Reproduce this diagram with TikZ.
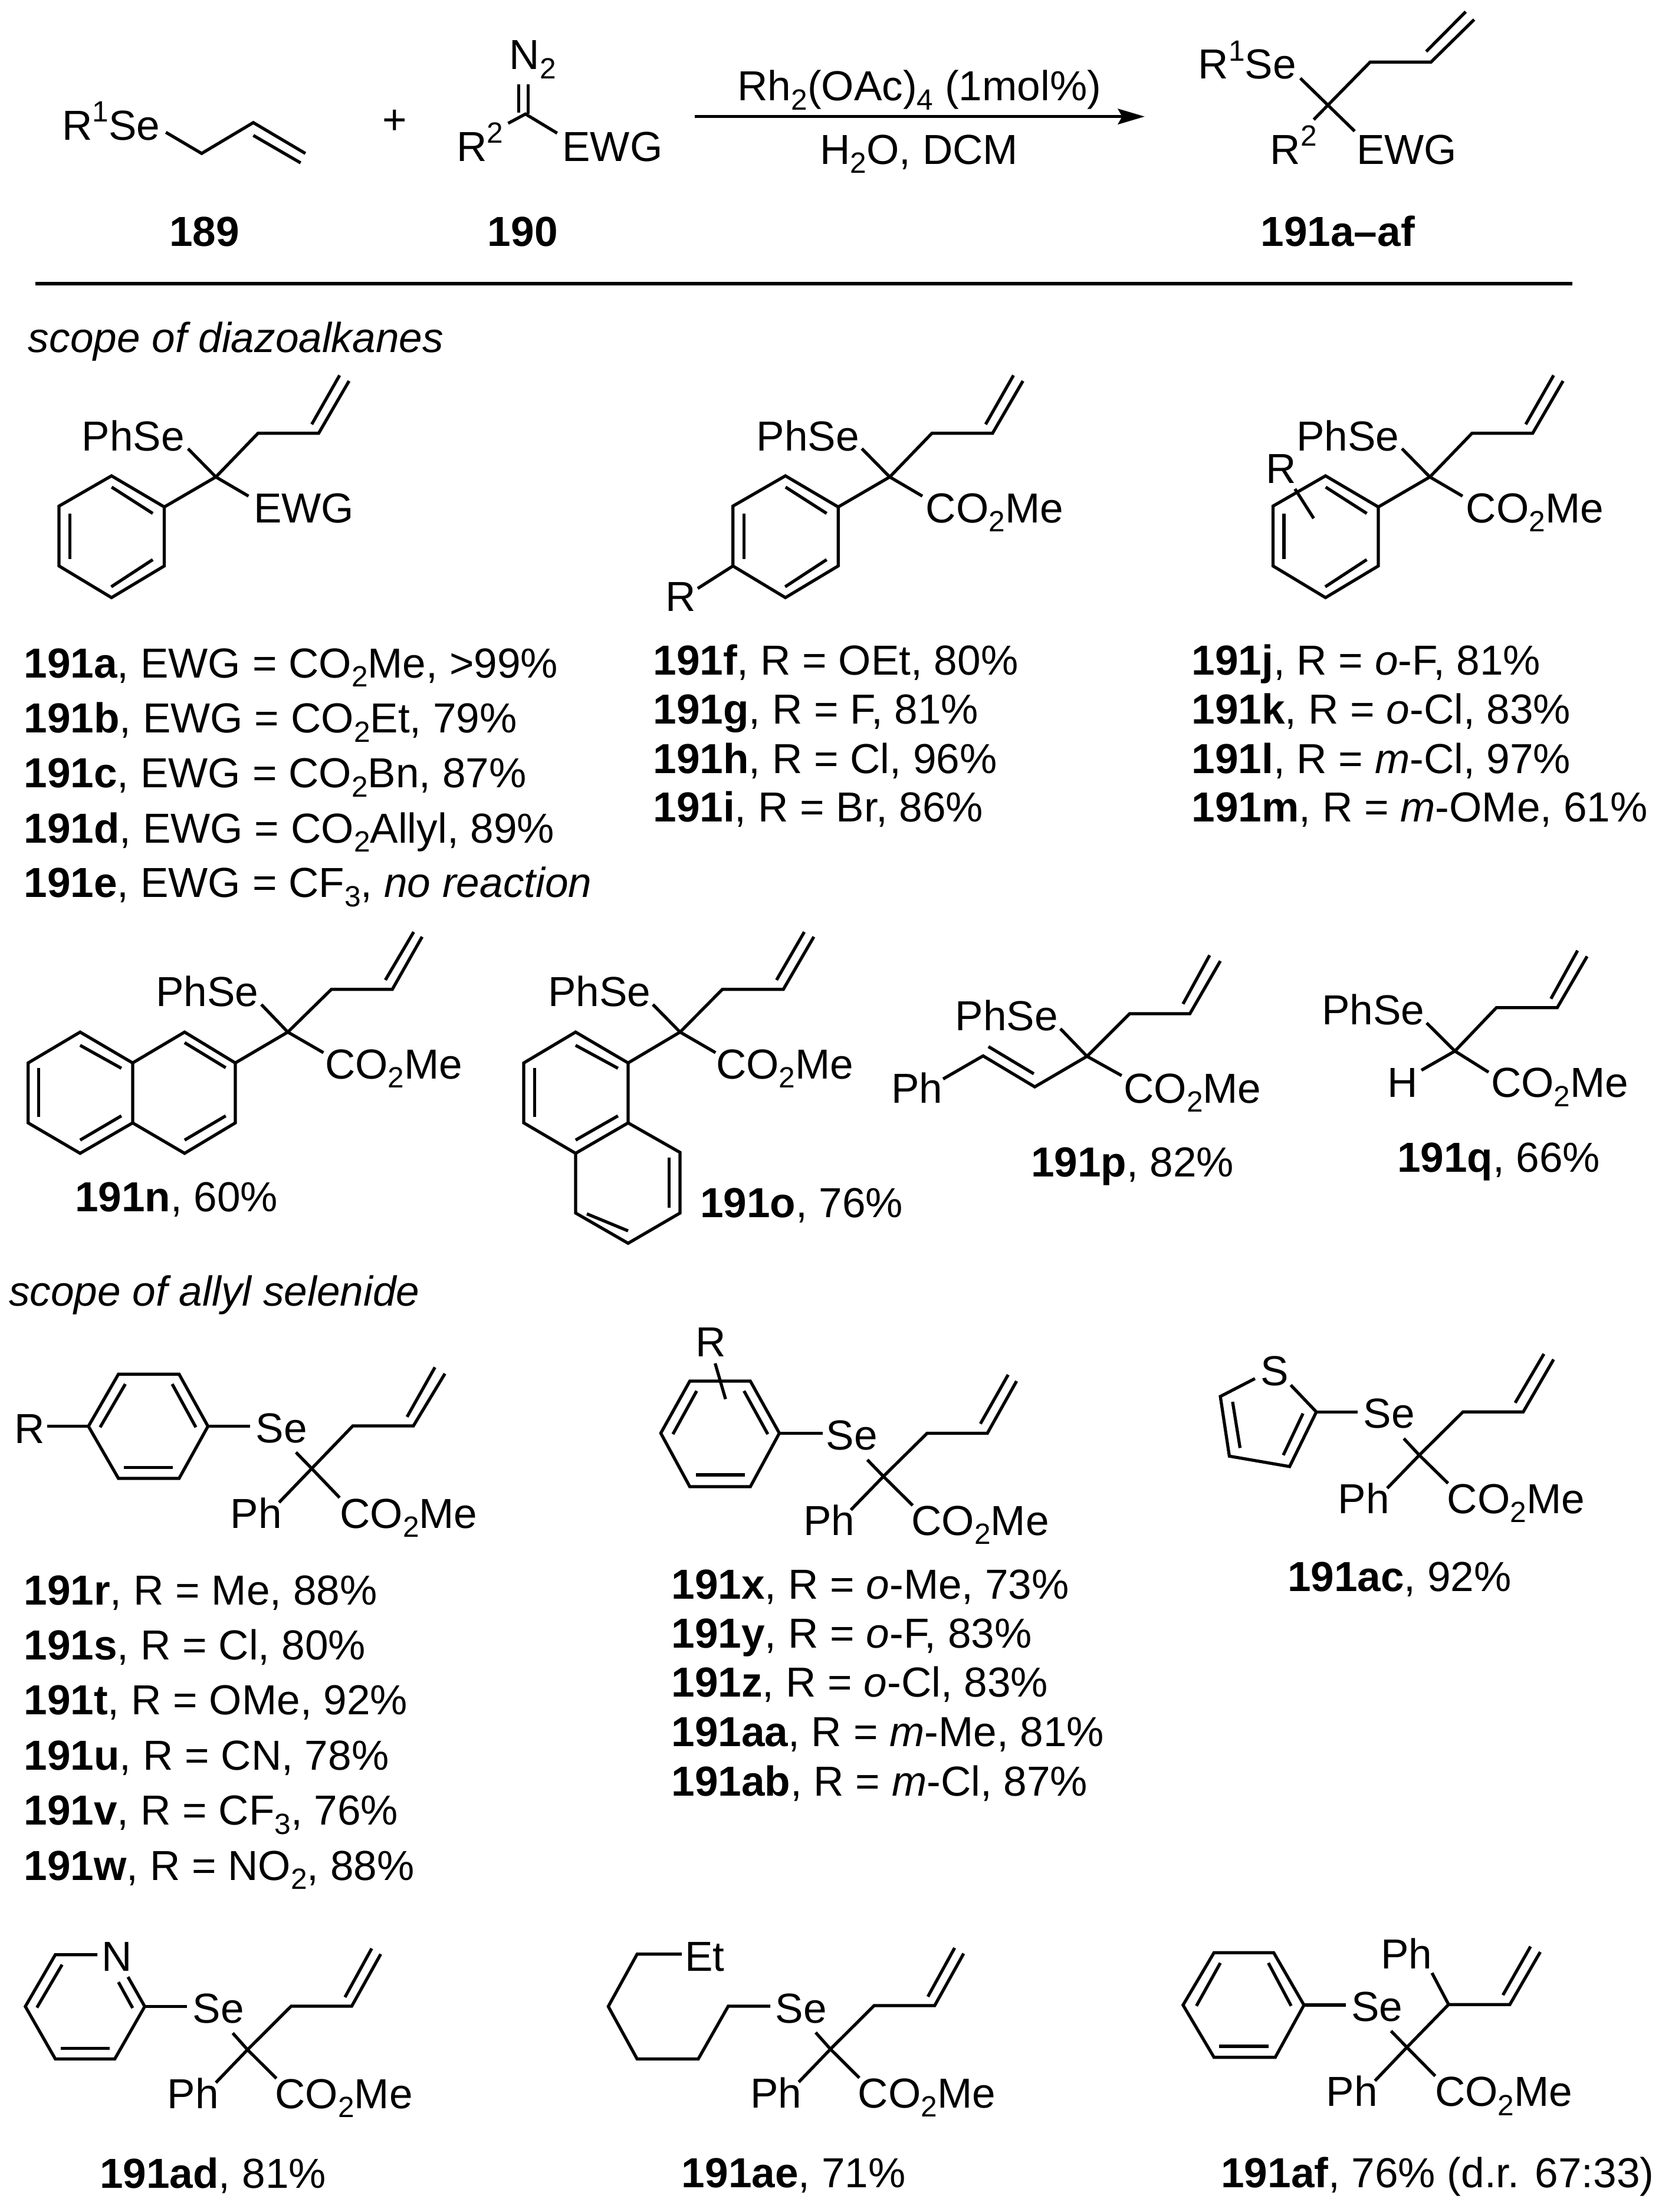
\documentclass[tikz,border=0pt]{standalone}
\usepackage{fontspec}
\usetikzlibrary{arrows.meta}
\setmainfont{Liberation Sans}
\newcount\tn
\newcommand\sbs[1]{\raisebox{-3.2pt}{\fontsize{10.4}{10.4}\selectfont #1}}
\newcommand\sps[1]{\raisebox{6.4pt}{\fontsize{10.4}{10.4}\selectfont #1}}
\newcommand\Lbl[3]{\global\advance\tn by 1\node[lbl] (t\the\tn) at (#1,#2) {#3};}
\newcommand\coMe{CO\sbs{2}Me}
\tikzset{
  lbl/.style={anchor=base west,inner sep=0pt,outer sep=0pt,xshift=-0.8pt,font=\fontsize{14.9}{14.9}\selectfont},
  bond/.style={draw=black,line width=1.1pt,line cap=butt,line join=miter},
  rule/.style={draw=black,line width=1.2pt},
  rxn/.style={draw=black,line width=1.1pt,-{Stealth[length=9.5pt,width=5.5pt,inset=1.5pt]}}
}
% allyl aryl fragment shared by 191a, 191f, 191j
\newcommand\arylfrag[1]{%
\begin{scope}[shift={(#1,0)}]
\draw[bond] (133.5,318.7) -- (153.3,338.8) -- (176.5,352.4);
\draw[bond] (153.3,338.8) -- (183.2,307.8) -- (226.3,307.8) -- (247.9,270.6);
\draw[bond] (221.4,301.4) -- (241.2,266.6);
\draw[bond] (153.3,338.8) -- (116.7,360.1);
\draw[bond] (116.7,360.1) -- (79.2,338) -- (41.9,359.5) -- (41.9,402) -- (79.2,424.5) -- (116.7,402) -- cycle;
\draw[bond] (79.3,346) -- (108.5,364.7);
\draw[bond] (49.7,364.7) -- (49.7,397.3);
\draw[bond] (79,416.8) -- (108.5,397.5);
\end{scope}}
\begin{document}
\begin{tikzpicture}[x=0.5pt,y=-0.5pt]
\useasboundingbox (0,0) rectangle (1180,1571.2);
\fill[white] (0,0) rectangle (1180,1571.2);
% ---- scheme
\Lbl{45.7}{99.5}{R\sps{1}Se}
\draw[bond] (117.8,94) -- (143.2,109) -- (179.9,87.1) -- (216.9,109);
\draw[bond] (179.9,96.2) -- (213.5,115.7);
\node[inner sep=0pt,font=\fontsize{14.9}{14.9}\selectfont] (plus) at (280.5,86.8) {+};
\Lbl{363.5}{49.4}{N\sbs{2}}
\draw[bond] (368.4,60) -- (368.4,80);
\draw[bond] (375,60) -- (375,81);
\draw[bond] (360.9,87.6) -- (373.2,81) -- (395.7,94.6);
\Lbl{326}{114.5}{R\sps{2}}
\Lbl{401}{114.5}{EWG}
\Lbl{122}{175}{\bfseries 189}
\Lbl{348}{175}{\bfseries 190}
\coordinate (arS) at (493.6,82.8);
\coordinate (arE) at (813,82.8);
\draw[rxn] (arS) -- (arE);
\Lbl{525.4}{71.6}{Rh\sbs{2}(OAc)\sbs{4} (1mol\%)}
\Lbl{584}{116.5}{H\sbs{2}O, DCM}
\Lbl{852.7}{56}{R\sps{1}Se}
\draw[bond] (923.5,55.6) -- (962.1,93.2);
\draw[bond] (933,85) -- (973.1,44.1) -- (1016.3,44.1) -- (1047,13.9);
\draw[bond] (1012.9,36.6) -- (1041,8.3);
\Lbl{903.8}{116.5}{R\sps{2}}
\Lbl{965}{116.5}{EWG}
\Lbl{897}{175}{\bfseries 191a–af}
\coordinate (ruleS) at (25,201.4);
\coordinate (ruleE) at (1116.6,201.4);
\draw[rule] (ruleS) -- (ruleE);
\Lbl{21.7}{250.3}{\itshape scope of diazoalkanes}
% ---- 191a
\arylfrag{0}
\Lbl{59.8}{320.3}{PhSe}
\Lbl{181.8}{371.4}{EWG}
\Lbl{18.6}{481.4}{\textbf{191a}, EWG = CO\sbs{2}Me, >99\%}
\Lbl{18.6}{520.6}{\textbf{191b}, EWG = CO\sbs{2}Et, 79\%}
\Lbl{18.6}{559.6}{\textbf{191c}, EWG = CO\sbs{2}Bn, 87\%}
\Lbl{18.6}{598.7}{\textbf{191d}, EWG = CO\sbs{2}Allyl, 89\%}
\Lbl{18.6}{637.5}{\textbf{191e}, EWG = CF\sbs{3}, \textit{no reaction}}
% ---- 191f
\arylfrag{478.6}
\draw[bond] (520.6,402) -- (495.5,418);
\Lbl{474.5}{434}{R}
\Lbl{539}{320.3}{PhSe}
\Lbl{659.2}{371.4}{\coMe}
\Lbl{465.5}{479.4}{\textbf{191f}, R = OEt, 80\%}
\Lbl{465.5}{514}{\textbf{191g}, R = F, 81\%}
\Lbl{465.5}{549.2}{\textbf{191h}, R = Cl, 96\%}
\Lbl{465.5}{583.9}{\textbf{191i}, R = Br, 86\%}
% ---- 191j
\arylfrag{862.2}
\draw[bond] (919.7,347.3) -- (933,368.2);
\Lbl{900.8}{343.3}{R}
\Lbl{922.4}{320.3}{PhSe}
\Lbl{1042.8}{371.4}{\coMe}
\Lbl{848}{479.4}{\textbf{191j}, R = \textit{o}-F, 81\%}
\Lbl{848}{514}{\textbf{191k}, R = \textit{o}-Cl, 83\%}
\Lbl{848}{549.2}{\textbf{191l}, R = \textit{m}-Cl, 97\%}
\Lbl{848}{583.9}{\textbf{191m}, R = \textit{m}-OMe, 61\%}
% ---- 191n
\Lbl{112.2}{714.8}{PhSe}
\draw[bond] (185.6,713.5) -- (204.4,733.1) -- (229.7,747.7);
\draw[bond] (204.4,733.1) -- (235.3,702.8) -- (278.6,702.8) -- (299.8,665.4);
\draw[bond] (273.7,696.1) -- (293.8,662);
\draw[bond] (204.4,733.1) -- (167.1,755);
\draw[bond] (167.1,755) -- (131.1,733.1) -- (94.2,755) -- (94.2,797.6) -- (131.1,819.2) -- (167.1,797.6) -- cycle;
\draw[bond] (94.2,755) -- (56.9,733.1) -- (20,755) -- (20,797.6) -- (56.9,819.2) -- (94.2,797.6);
\draw[bond] (131.1,740.6) -- (160.3,758.4);
\draw[bond] (131.1,809.8) -- (160.3,792.6);
\draw[bond] (56.9,742.5) -- (86.2,758.8);
\draw[bond] (27.3,758.4) -- (27.3,793.5);
\draw[bond] (56.9,809.8) -- (86.2,792.6);
\Lbl{232.5}{766.4}{\coMe}
\Lbl{54.8}{860.6}{\textbf{191n}, 60\%}
% ---- 191o
\Lbl{390.8}{714.8}{PhSe}
\draw[bond] (463.7,713.5) -- (483,733.1) -- (508.2,747.7);
\draw[bond] (483,733.1) -- (513,702.8) -- (556.3,702.8) -- (578,665.4);
\draw[bond] (551.5,696.1) -- (571.2,662);
\draw[bond] (483,733.1) -- (446.1,755);
\draw[bond] (446.1,755) -- (408.8,733.1) -- (372,755) -- (372,797.6) -- (408.8,819.2) -- (446.1,797.6) -- cycle;
\draw[bond] (446.1,797.6) -- (483,818.6) -- (483,861.6) -- (446.1,883.1) -- (408.8,861.6) -- (408.8,819.2);
\draw[bond] (408.8,742.5) -- (438.9,758.8);
\draw[bond] (379.6,758.4) -- (379.6,793.5);
\draw[bond] (408.8,809.8) -- (438.9,792.6);
\draw[bond] (475.3,822.3) -- (475.3,857.9);
\draw[bond] (416.8,862.2) -- (446.1,874.3);
\Lbl{510.2}{766.4}{\coMe}
\Lbl{498.8}{864.9}{\textbf{191o}, 76\%}
% ---- 191p
\Lbl{680}{731.8}{PhSe}
\draw[bond] (753.1,730.7) -- (772,750.3) -- (796.6,764);
\draw[bond] (772,750.3) -- (802.3,720) -- (845.1,720) -- (866.7,682.6);
\draw[bond] (840.2,713.1) -- (859.1,678.5);
\draw[bond] (772,750.3) -- (734.9,772) -- (698.2,750) -- (669.8,766.4);
\draw[bond] (734.2,762.7) -- (702,743.4);
\Lbl{634.6}{783.3}{Ph}
\Lbl{799.7}{783.3}{\coMe}
\Lbl{733.8}{835.9}{\textbf{191p}, 82\%}
% ---- 191q
\Lbl{940.5}{727.9}{PhSe}
\draw[bond] (1013.2,726.6) -- (1033.3,746.6) -- (1057.2,761.6);
\draw[bond] (1033.3,746.6) -- (1062.8,715.7) -- (1106,715.7) -- (1127.2,679.3);
\draw[bond] (1101.5,709.4) -- (1120.4,675.2);
\draw[bond] (1033.3,746.6) -- (1009.5,760.2);
\Lbl{987}{779.5}{H}
\Lbl{1060.6}{779.5}{\coMe}
\Lbl{993.9}{832.3}{\textbf{191q}, 66\%}
\Lbl{8}{927.5}{\itshape scope of allyl selenide}
% ---- 191r
\Lbl{12}{1025}{R}
\draw[bond] (33.7,1013.1) -- (62.8,1013.1);
\draw[bond] (62.8,1013.1) -- (84.1,976.1) -- (127.2,976.1) -- (147.7,1013.1) -- (127.2,1050.1) -- (84.1,1050.1) -- cycle;
\draw[bond] (89,983.1) -- (71.1,1013.8);
\draw[bond] (122.3,983.1) -- (139.1,1013.8);
\draw[bond] (87.9,1042.4) -- (122.7,1042.4);
\draw[bond] (147.7,1013.1) -- (177.6,1013.1);
\Lbl{183.2}{1024.6}{Se}
\draw[bond] (198.2,1067.2) -- (221.4,1043.1) -- (250.6,1012.8) -- (293.6,1012.8) -- (316,975.7);
\draw[bond] (289.1,1006.4) -- (308.9,971.2);
\draw[bond] (210.2,1031.6) -- (221.4,1043.1) -- (241.2,1063.8);
\Lbl{165.3}{1085.3}{Ph}
\Lbl{243}{1085.3}{\coMe}
\Lbl{18.6}{1140.1}{\textbf{191r}, R = Me, 88\%}
\Lbl{18.6}{1178.9}{\textbf{191s}, R = Cl, 80\%}
\Lbl{18.6}{1217.7}{\textbf{191t}, R = OMe, 92\%}
\Lbl{18.6}{1257.4}{\textbf{191u}, R = CN, 78\%}
\Lbl{18.6}{1296.4}{\textbf{191v}, R = CF\sbs{3}, 76\%}
\Lbl{18.6}{1335.5}{\textbf{191w}, R = NO\sbs{2}, 88\%}
% ---- 191x
\Lbl{495.5}{963.8}{R}
\draw[bond] (507.9,968.4) -- (515.3,993.8);
\draw[bond] (489.9,981) -- (532.9,981) -- (553.5,1018) -- (532.9,1056) -- (489.9,1056) -- (469.3,1018) -- cycle;
\draw[bond] (494.8,988) -- (477.9,1018.7);
\draw[bond] (528.4,988) -- (545.3,1018.7);
\draw[bond] (494.4,1047.6) -- (529.2,1047.6);
\draw[bond] (553.5,1018) -- (584.5,1018);
\Lbl{588.4}{1029.6}{Se}
\draw[bond] (604.3,1072.5) -- (627.4,1048.7) -- (658.4,1018.1) -- (701.2,1018.1) -- (722,981);
\draw[bond] (696.3,1011.3) -- (716,976.5);
\draw[bond] (616,1036.9) -- (627.4,1048.7) -- (648.2,1069.3);
\Lbl{572.2}{1090.6}{Ph}
\Lbl{649}{1090.6}{\coMe}
\Lbl{478.5}{1135.6}{\textbf{191x}, R = \textit{o}-Me, 73\%}
\Lbl{478.5}{1170.6}{\textbf{191y}, R = \textit{o}-F, 83\%}
\Lbl{478.5}{1205.5}{\textbf{191z}, R = \textit{o}-Cl, 83\%}
\Lbl{478.5}{1240.5}{\textbf{191aa}, R = \textit{m}-Me, 81\%}
\Lbl{478.5}{1275.6}{\textbf{191ab}, R = \textit{m}-Cl, 87\%}
% ---- 191ac
\Lbl{897}{984.2}{S}
\draw[bond] (891.3,979.2) -- (866.7,991.9) -- (873.1,1034.3) -- (915.9,1041.7) -- (934.9,1002.9) -- (916.7,983.8);
\draw[bond] (875.4,995.7) -- (880.7,1028.5);
\draw[bond] (911.4,1033.6) -- (925.4,1004);
\draw[bond] (934.9,1002.9) -- (964.4,1002.9);
\Lbl{970}{1014.5}{Se}
\draw[bond] (985.2,1057.1) -- (1008,1033.6) -- (1039,1002.9) -- (1081.8,1002.9) -- (1103.4,965.6);
\draw[bond] (1076.1,996.4) -- (1096.5,961.7);
\draw[bond] (997,1021.8) -- (1008,1033.6) -- (1028.4,1053.6);
\Lbl{951.9}{1075}{Ph}
\Lbl{1029.5}{1075}{\coMe}
\Lbl{916}{1130.5}{\textbf{191ac}, 92\%}
% ---- 191ad
\Lbl{73.7}{1400.2}{N}
\draw[bond] (69.2,1388.4) -- (39.3,1388.4) -- (18,1425.2) -- (39.3,1462.5) -- (81.5,1462.5) -- (102.8,1425.2) -- (90.9,1404.2);
\draw[bond] (44.1,1395.5) -- (26.2,1426);
\draw[bond] (43,1455.1) -- (77.8,1455.1);
\draw[bond] (84.1,1407.9) -- (94.2,1426.3);
\draw[bond] (102.8,1425.2) -- (132.8,1425.2);
\Lbl{138.4}{1437}{Se}
\draw[bond] (153.3,1479.3) -- (175.8,1455.9) -- (206.8,1425) -- (249.8,1425) -- (270.4,1388);
\draw[bond] (245,1418.6) -- (264,1384);
\draw[bond] (165.3,1444.1) -- (175.8,1455.9) -- (196.3,1476.3);
\Lbl{120.4}{1497.7}{Ph}
\Lbl{197}{1497.7}{\coMe}
\Lbl{72.5}{1554.3}{\textbf{191ad}, 81\%}
% ---- 191ae
\Lbl{488}{1399.9}{Et}
\draw[bond] (484.3,1388) -- (452.5,1388) -- (432,1425.2) -- (452.5,1462.5) -- (495.9,1462.5) -- (517.2,1425) -- (547.1,1425);
\Lbl{552.4}{1437}{Se}
\draw[bond] (567.3,1478.9) -- (589.8,1455.5) -- (620.8,1424.6) -- (663.8,1424.6) -- (684.4,1387.6);
\draw[bond] (659,1418.2) -- (678,1383.6);
\draw[bond] (579.3,1443.7) -- (589.8,1455.5) -- (610.3,1475.9);
\Lbl{534.4}{1497.3}{Ph}
\Lbl{611}{1497.3}{\coMe}
\Lbl{485.8}{1554}{\textbf{191ae}, 71\%}
% ---- 191af
\draw[bond] (862.2,1387) -- (904.6,1387) -- (926.1,1424.2) -- (905.7,1461.3) -- (862.2,1461.3) -- (840.2,1424.2) -- cycle;
\draw[bond] (866.7,1394.3) -- (849.7,1424.8);
\draw[bond] (866,1453.5) -- (900.8,1453.5);
\draw[bond] (900.8,1394.3) -- (917,1424.8);
\draw[bond] (926.1,1424.2) -- (955.7,1424.2);
\Lbl{961.4}{1435.5}{Se}
\Lbl{982.2}{1398.5}{Ph}
\draw[bond] (1017,1401.4) -- (1028.8,1423.8) -- (1072.3,1423.8) -- (1093.9,1386.5);
\draw[bond] (1067.4,1417.1) -- (1087,1382.6);
\draw[bond] (1028.8,1423.8) -- (999.2,1454.2) -- (976.5,1478);
\draw[bond] (987.9,1442.6) -- (999.2,1454.2) -- (1019.3,1474.6);
\Lbl{943.6}{1496.2}{Ph}
\Lbl{1020.8}{1496.2}{\coMe}
\Lbl{868.8}{1554}{\textbf{191af}, 76\% (d.r. 67:33)}
\end{tikzpicture}
\end{document}
